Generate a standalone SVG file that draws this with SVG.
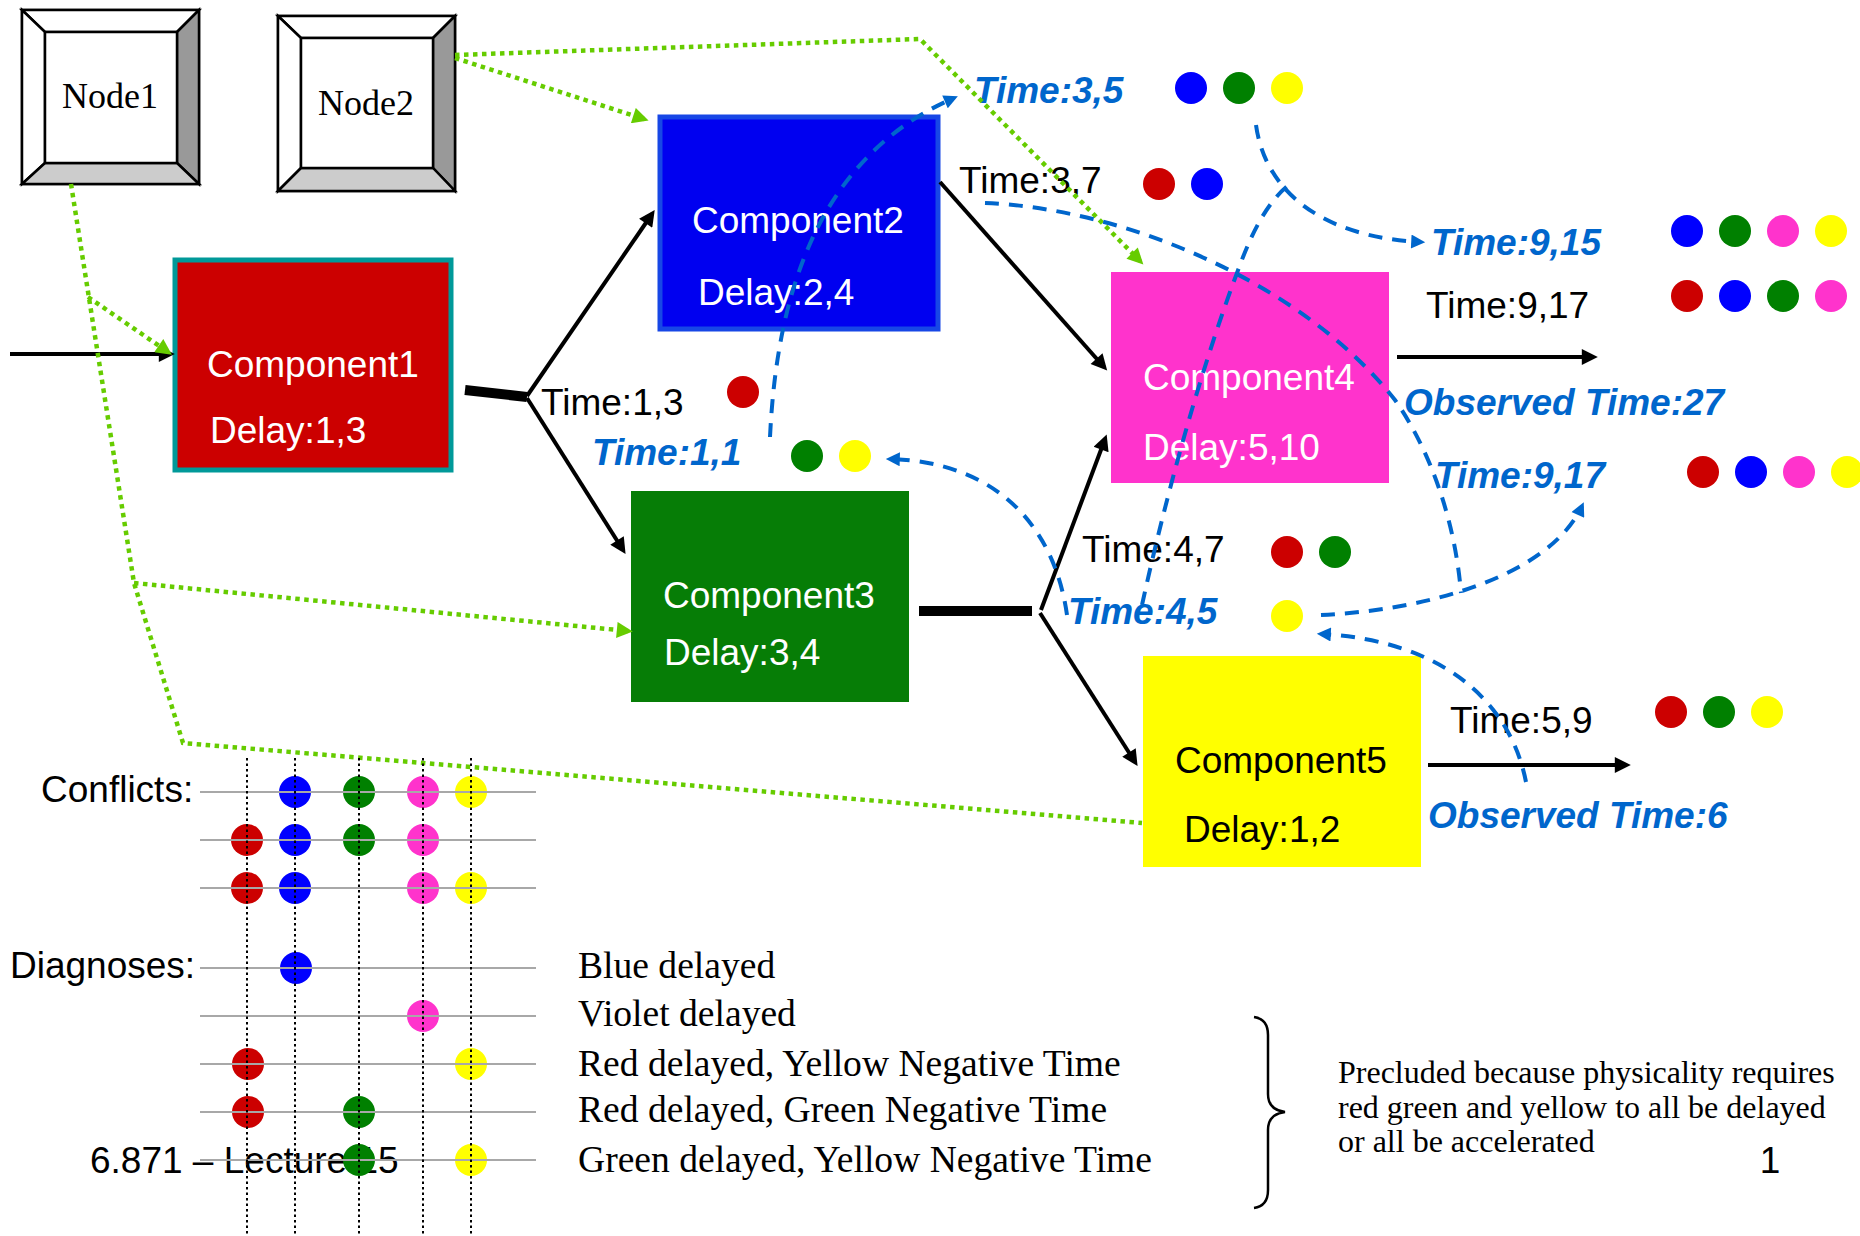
<svg xmlns="http://www.w3.org/2000/svg" width="1860" height="1236" viewBox="0 0 1860 1236">
  <style>
    .sans { font-family: 'Liberation Sans', Arial, sans-serif; }
    .serif { font-family: 'Liberation Serif', 'Times New Roman', serif; }
    .lbl { font-size: 37px; fill: #000; }
    .est { font-size: 37px; fill: #0066cc; font-weight: bold; font-style: italic; }
    .comp { font-size: 37px; fill: #fff; }
    .list { font-size: 37.6px; fill: #000; }
    .note { font-size: 32px; fill: #000; }
    .flow { fill: none; stroke: #000; stroke-width: 4; }
    .bar { fill: none; stroke: #000; stroke-width: 10; }
    .map { fill: none; stroke: #66cc00; stroke-width: 4.5; stroke-dasharray: 4.5 4.5; }
    .prop { fill: none; stroke: #0066cc; stroke-width: 4; stroke-dasharray: 14 10; }
    .bevel { stroke: #000; stroke-width: 2.5; stroke-linejoin: miter; }
    .col { fill: none; stroke: #000; stroke-width: 2; stroke-dasharray: 2.5 3; }
    .row { fill: none; stroke: #a8a8a8; stroke-width: 1.8; }
    .r { fill: #cc0000; } .b { fill: #0000ff; } .g { fill: #008000; }
    .m { fill: #ff33cc; } .y { fill: #ffff00; }
  </style>
  <defs>
    <marker id="ah-black" viewBox="0 0 10 10" refX="7" refY="5" markerUnits="userSpaceOnUse" markerWidth="18" markerHeight="16" orient="auto">
      <path d="M0,0 L10,5 L0,10 z" fill="#000"/>
    </marker>
    <marker id="ah-green" viewBox="0 0 10 10" refX="7" refY="5" markerUnits="userSpaceOnUse" markerWidth="18" markerHeight="16" orient="auto">
      <path d="M0,0 L10,5 L0,10 z" fill="#66cc00"/>
    </marker>
    <marker id="ah-blue" viewBox="0 0 10 10" refX="7" refY="5" markerUnits="userSpaceOnUse" markerWidth="16" markerHeight="14" orient="auto">
      <path d="M0,0 L10,5 L0,10 z" fill="#0066cc"/>
    </marker>
  </defs>

  <rect width="1860" height="1236" fill="#fff"/>

  <!-- processors -->
  <g id="node1">
    <rect x="22" y="10" width="177" height="174" fill="#fff" class="bevel"/>
    <polygon points="22,10 199,10 177,32 45,32" fill="#fff" class="bevel"/>
    <polygon points="22,10 45,32 45,163 22,184" fill="#fff" class="bevel"/>
    <polygon points="199,10 199,184 177,163 177,32" fill="#999" class="bevel"/>
    <polygon points="22,184 199,184 177,163 45,163" fill="#ccc" class="bevel"/>
    <rect x="45" y="32" width="132" height="131" fill="#fff" class="bevel"/>
    <text x="110" y="108" text-anchor="middle" class="serif" font-size="36">Node1</text>
  </g>
  <g id="node2">
    <rect x="278" y="16" width="177" height="175" fill="#fff" class="bevel"/>
    <polygon points="278,16 455,16 433,38 301,38" fill="#fff" class="bevel"/>
    <polygon points="278,16 301,38 301,168 278,191" fill="#fff" class="bevel"/>
    <polygon points="455,16 455,191 433,168 433,38" fill="#999" class="bevel"/>
    <polygon points="278,191 455,191 433,168 301,168" fill="#ccc" class="bevel"/>
    <rect x="301" y="38" width="132" height="130" fill="#fff" class="bevel"/>
    <text x="366" y="115" text-anchor="middle" class="serif" font-size="36">Node2</text>
  </g>

  <!-- components -->
  <g id="component1">
    <rect x="175" y="260" width="276" height="210" fill="#cc0000" stroke="#009999" stroke-width="5"/>
    <text x="207" y="377" class="sans comp">Component1</text>
    <text x="210" y="443" class="sans comp">Delay:1,3</text>
  </g>
  <g id="component2">
    <rect x="660" y="117" width="278" height="212" fill="#0000f0" stroke="#1747e6" stroke-width="5"/>
    <text x="692" y="233" class="sans comp">Component2</text>
    <text x="698" y="305" class="sans comp">Delay:2,4</text>
  </g>
  <g id="component3">
    <rect x="631" y="491" width="278" height="211" fill="#067d06"/>
    <text x="663" y="608" class="sans comp">Component3</text>
    <text x="664" y="665" class="sans comp">Delay:3,4</text>
  </g>
  <g id="component4">
    <rect x="1111" y="272" width="278" height="211" fill="#ff33cc"/>
    <text x="1143" y="390" class="sans comp">Component4</text>
    <text x="1143" y="460" class="sans comp">Delay:5,10</text>
  </g>
  <g id="component5">
    <rect x="1143" y="656" width="278" height="211" fill="#ffff00"/>
    <text x="1175" y="773" class="sans lbl">Component5</text>
    <text x="1184" y="842" class="sans lbl">Delay:1,2</text>
  </g>

  <!-- time interval labels and value markers -->
  <g id="labels">
    <text x="974" y="103" class="sans est">Time:3,5</text>
    <text x="959" y="193" class="sans lbl">Time:3,7</text>
    <text x="1431" y="255" class="sans est">Time:9,15</text>
    <text x="1426" y="318" class="sans lbl">Time:9,17</text>
    <text x="1404" y="415" class="sans est">Observed Time:27</text>
    <text x="1435" y="488" class="sans est">Time:9,17</text>
    <text x="541" y="415" class="sans lbl">Time:1,3</text>
    <text x="592" y="465" class="sans est">Time:1,1</text>
    <text x="1082" y="562" class="sans lbl">Time:4,7</text>
    <text x="1068" y="624" class="sans est">Time:4,5</text>
    <text x="1450" y="733" class="sans lbl">Time:5,9</text>
    <text x="1428" y="828" class="sans est">Observed Time:6</text>
  </g>
  <g id="markers">
    <circle cx="1191" cy="88" r="16" class="b"/><circle cx="1239" cy="88" r="16" class="g"/><circle cx="1287" cy="88" r="16" class="y"/>
    <circle cx="1159" cy="184" r="16" class="r"/><circle cx="1207" cy="184" r="16" class="b"/>
    <circle cx="1687" cy="231" r="16" class="b"/><circle cx="1735" cy="231" r="16" class="g"/><circle cx="1783" cy="231" r="16" class="m"/><circle cx="1831" cy="231" r="16" class="y"/>
    <circle cx="1687" cy="296" r="16" class="r"/><circle cx="1735" cy="296" r="16" class="b"/><circle cx="1783" cy="296" r="16" class="g"/><circle cx="1831" cy="296" r="16" class="m"/>
    <circle cx="1703" cy="472" r="16" class="r"/><circle cx="1751" cy="472" r="16" class="b"/><circle cx="1799" cy="472" r="16" class="m"/><circle cx="1847" cy="472" r="16" class="y"/>
    <circle cx="743" cy="392" r="16" class="r"/>
    <circle cx="807" cy="456" r="16" class="g"/><circle cx="855" cy="456" r="16" class="y"/>
    <circle cx="1287" cy="552" r="16" class="r"/><circle cx="1335" cy="552" r="16" class="g"/>
    <circle cx="1287" cy="616" r="16" class="y"/>
    <circle cx="1671" cy="712" r="16" class="r"/><circle cx="1719" cy="712" r="16" class="g"/><circle cx="1767" cy="712" r="16" class="y"/>
  </g>

  <!-- connectors -->
  <g id="connectors">
    <!-- signal flow -->
    <line x1="10" y1="354" x2="170" y2="354" class="flow" marker-end="url(#ah-black)"/>
    <line x1="465" y1="390" x2="527" y2="397" class="bar"/>
    <line x1="527" y1="396" x2="652" y2="214" class="flow" marker-end="url(#ah-black)"/>
    <line x1="527" y1="398" x2="623" y2="550" class="flow" marker-end="url(#ah-black)"/>
    <line x1="940" y1="182" x2="1104" y2="367" class="flow" marker-end="url(#ah-black)"/>
    <line x1="919" y1="611" x2="1032" y2="611" class="bar"/>
    <line x1="1041" y1="610" x2="1105" y2="439" class="flow" marker-end="url(#ah-black)"/>
    <line x1="1040" y1="613" x2="1135" y2="762" class="flow" marker-end="url(#ah-black)"/>
    <line x1="1397" y1="357" x2="1593" y2="357" class="flow" marker-end="url(#ah-black)"/>
    <line x1="1428" y1="765" x2="1626" y2="765" class="flow" marker-end="url(#ah-black)"/>

    <!-- processor mapping -->
    <polyline points="71,184 134,583 183,743 1142,823" class="map"/>
    <line x1="88" y1="297" x2="168" y2="352" class="map" marker-end="url(#ah-green)"/>
    <line x1="134" y1="583" x2="628" y2="631" class="map" marker-end="url(#ah-green)"/>
    <line x1="455" y1="58" x2="644" y2="119" class="map" marker-end="url(#ah-green)"/>
    <polyline points="455,55 920,39 1140,261" class="map" marker-end="url(#ah-green)"/>

    <!-- time propagation -->
    <path d="M770,437 C776,310 810,160 954,98" class="prop" marker-end="url(#ah-blue)"/>
    <path d="M985,203 C1120,208 1300,280 1395,400 C1430,450 1455,520 1461,593" class="prop"/>
    <path d="M1256,125 C1265,190 1320,237 1421,242" class="prop" marker-end="url(#ah-blue)"/>
    <path d="M1142,605 C1165,500 1200,370 1240,265 Q1262,205 1290,184" class="prop"/>
    <path d="M1067,615 C1055,530 1000,462 890,459" class="prop" marker-end="url(#ah-blue)"/>
    <path d="M1321,615 C1430,610 1550,575 1582,506" class="prop" marker-end="url(#ah-blue)"/>
    <path d="M1526,782 C1510,700 1440,640 1321,634" class="prop" marker-end="url(#ah-blue)"/>
  </g>

  <!-- conflicts and diagnoses table -->
  <g id="table">
    <text x="90" y="1173" class="sans lbl">6.871 – Lecture 15</text>
    <text x="41" y="802" class="sans lbl">Conflicts:</text>
    <text x="10" y="978" class="sans lbl">Diagnoses:</text>

    <circle cx="295" cy="792" r="16" class="b"/><circle cx="359" cy="792" r="16" class="g"/><circle cx="423" cy="792" r="16" class="m"/><circle cx="471" cy="792" r="16" class="y"/>
    <circle cx="247" cy="840" r="16" class="r"/><circle cx="295" cy="840" r="16" class="b"/><circle cx="359" cy="840" r="16" class="g"/><circle cx="423" cy="840" r="16" class="m"/>
    <circle cx="247" cy="888" r="16" class="r"/><circle cx="295" cy="888" r="16" class="b"/><circle cx="423" cy="888" r="16" class="m"/><circle cx="471" cy="888" r="16" class="y"/>
    <circle cx="296" cy="968" r="16" class="b"/>
    <circle cx="423" cy="1016" r="16" class="m"/>
    <circle cx="248" cy="1064" r="16" class="r"/><circle cx="471" cy="1064" r="16" class="y"/>
    <circle cx="248" cy="1112" r="16" class="r"/><circle cx="359" cy="1112" r="16" class="g"/>
    <circle cx="359" cy="1160" r="16" class="g"/><circle cx="471" cy="1160" r="16" class="y"/>

    <line x1="200" y1="792" x2="536" y2="792" class="row"/>
    <line x1="200" y1="840" x2="536" y2="840" class="row"/>
    <line x1="200" y1="888" x2="536" y2="888" class="row"/>
    <line x1="200" y1="968" x2="536" y2="968" class="row"/>
    <line x1="200" y1="1016" x2="536" y2="1016" class="row"/>
    <line x1="200" y1="1064" x2="536" y2="1064" class="row"/>
    <line x1="200" y1="1112" x2="536" y2="1112" class="row"/>
    <line x1="200" y1="1160" x2="536" y2="1160" class="row"/>

    <line x1="247" y1="758" x2="247" y2="1236" class="col"/>
    <line x1="295" y1="758" x2="295" y2="1236" class="col"/>
    <line x1="359" y1="758" x2="359" y2="1236" class="col"/>
    <line x1="423" y1="758" x2="423" y2="1236" class="col"/>
    <line x1="471" y1="758" x2="471" y2="1236" class="col"/>

    <text x="578" y="978" class="serif list">Blue delayed</text>
    <text x="578" y="1026" class="serif list">Violet delayed</text>
    <text x="578" y="1076" class="serif list">Red delayed, Yellow Negative Time</text>
    <text x="578" y="1122" class="serif list">Red delayed, Green Negative Time</text>
    <text x="578" y="1172" class="serif list">Green delayed, Yellow Negative Time</text>

    <path d="M1254,1017 Q1268,1019 1268,1035 L1268,1094 Q1268,1110 1285,1112 Q1268,1114 1268,1130 L1268,1190 Q1268,1206 1254,1208" fill="none" stroke="#000" stroke-width="2.5"/>
    <text x="1338" y="1083" class="serif note">Precluded because physicality requires</text>
    <text x="1338" y="1118" class="serif note">red green and yellow to all be delayed</text>
    <text x="1338" y="1152" class="serif note">or all be accelerated</text>
    <text x="1770" y="1173" text-anchor="middle" class="sans lbl">1</text>
  </g>
</svg>
